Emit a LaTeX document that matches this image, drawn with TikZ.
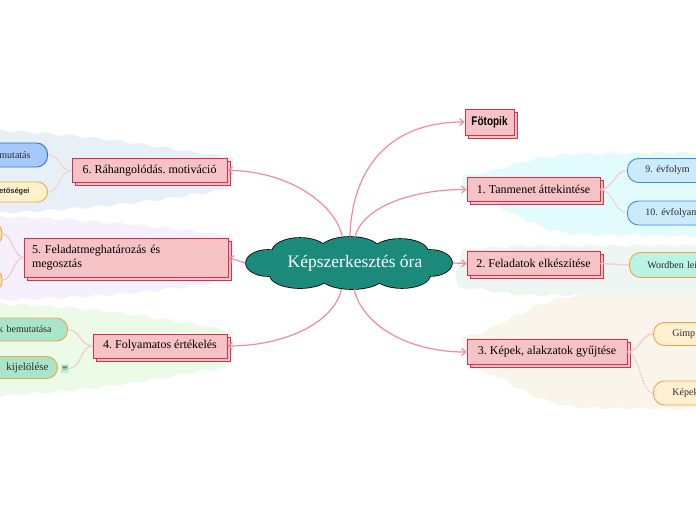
\documentclass[tikz,border=0pt]{standalone}
\usepackage{fontspec}
\setmainfont{Liberation Serif}
\newfontfamily\sansb{Liberation Sans}
\newfontfamily\condb{Liberation Sans}[FakeStretch=0.8]
\newfontfamily\symf{DejaVu Sans}
\usetikzlibrary{shapes.geometric,shapes.misc,arrows.meta,shadows,decorations.pathmorphing}
\frenchspacing
\definecolor{boxfill}{HTML}{F5C3C6}
\definecolor{boxborder}{HTML}{D6304C}
\definecolor{linkpink}{HTML}{F28B9B}
\definecolor{subpink}{HTML}{F7C9D1}
\definecolor{cloudteal}{HTML}{1C8A7A}
\definecolor{regA}{HTML}{E2FBFD}
\definecolor{regB}{HTML}{EEF6F1}
\definecolor{regC}{HTML}{FAF5EA}
\definecolor{regD}{HTML}{E8F0F7}
\definecolor{regE}{HTML}{F5F0FC}
\definecolor{regF}{HTML}{ECFBE7}
\definecolor{bluefillA}{HTML}{CBEAFC}
\definecolor{blueborderA}{HTML}{3B8ED6}
\definecolor{bluefillB}{HTML}{A6C9FB}
\definecolor{blueborderB}{HTML}{2D6FD6}
\definecolor{mintfill}{HTML}{B9F3E4}
\definecolor{greenfill}{HTML}{A9E5C9}
\definecolor{creamfill}{HTML}{FFF0D2}
\definecolor{yellowfill}{HTML}{FFF2CC}
\definecolor{peachfill}{HTML}{FDE3C0}
\definecolor{orangeborder}{HTML}{F0A34A}
\definecolor{pilltext}{HTML}{2A2A2A}
\definecolor{iconbg}{HTML}{C5EED5}
\definecolor{icontext}{HTML}{2F5E48}
\begin{document}
\begin{tikzpicture}[x=1pt,y=-1pt,
  topic/.style={draw=boxborder, fill=boxfill, line width=0.9pt,
    copy shadow={shadow xshift=3pt, shadow yshift=-3pt},
    font=\fontsize{12}{14}\selectfont, inner sep=0pt, minimum height=24pt},
  mainline/.style={draw=linkpink, line width=1.2pt, -{Straight Barb[length=4pt,width=7pt]}},
  subline/.style={draw=subpink, line width=1.3pt},
  subdot/.style={draw=subpink, line width=1.3pt, dash pattern=on 2pt off 1pt},
  region/.style={decorate, decoration={snake, amplitude=1.2pt, segment length=24pt}},
  pill/.style={rectangle, rounded corners=11pt, line width=0.9pt, inner ysep=0pt,
    minimum height=24pt, font=\fontsize{10}{12}\selectfont, text=pilltext},
  pillR/.style={pill, anchor=west, text width=80pt, align=left},
  pillL/.style={pill, anchor=east, text width=70pt, align=right},
]
\useasboundingbox (0,0) rectangle (696,520);
\fill[white] (0,0) rectangle (696,520);

% background regions
\fill[regA, region] (462,176) .. controls (500,172) and (520,156) .. (570,155) -- (720,153)
  -- (720,243) -- (575,241) .. controls (520,240) and (500,207) .. (462,207) -- cycle;
\fill[regB, region] (462,250) .. controls (490,248) and (500,246) .. (540,246) -- (720,246)
  -- (720,290) -- (540,289) .. controls (500,289) and (490,283) .. (462,282) -- cycle;
\fill[regC, region] (462,337) .. controls (500,330) and (520,300) .. (580,296) -- (720,293)
  -- (720,412) -- (580,410) .. controls (520,408) and (500,373) .. (462,371) -- cycle;
\fill[regD, region] (233,157) .. controls (180,152) and (120,135) .. (-20,130)
  -- (-20,214) .. controls (120,210) and (190,195) .. (233,189) -- cycle;
\fill[regE, region] (233,236) .. controls (180,230) and (120,220) .. (-20,217)
  -- (-20,302) .. controls (120,300) and (190,288) .. (233,282) -- cycle;
\fill[regF, region] (233,331) .. controls (180,322) and (120,308) .. (-20,304)
  -- (-20,393) .. controls (120,388) and (190,370) .. (233,364) -- cycle;

% central cloud: union of lobes (outline drawn first, fill on top)
\foreach \cx/\cy/\rx/\ry in {268/263/22/13, 300/252/28/14, 350/250/30/13, 400/252/28/13,
    430/263/22/13, 300/275/30/13, 352/276/32/13, 402/275/28/13, 350/263/80/18}
  \draw[black, line width=1.6pt] (\cx,\cy) ellipse [x radius=\rx, y radius=\ry];
\foreach \cx/\cy/\rx/\ry in {268/263/22/13, 300/252/28/14, 350/250/30/13, 400/252/28/13,
    430/263/22/13, 300/275/30/13, 352/276/32/13, 402/275/28/13, 350/263/80/18}
  \fill[cloudteal] (\cx,\cy) ellipse [x radius=\rx, y radius=\ry];
\node[ellipse, minimum width=206pt, minimum height=52pt, inner sep=0pt, text=white,
  font=\fontsize{17.5}{20}\selectfont] (c) at (349,263) {\hspace*{12pt}Képszerkesztés óra};

% main topics
\node[topic, minimum width=49pt, minimum height=26pt, font=\condb\bfseries\fontsize{12.5}{14}\selectfont] (fot) at (489.5,122) {Fötopik};
\node[topic, minimum width=133pt] (t1) at (533.5,189.5) {1. Tanmenet áttekintése};
\node[topic, minimum width=133pt] (t2) at (533.5,263.5) {2. Feladatok elkészítése};
\node[topic, minimum width=160pt, minimum height=25pt] (t3) at (547,352) {3. Képek, alakzatok gyűjtése};
\node[topic, minimum width=155pt] (t6) at (149.5,170.5) {6. Ráhangolódás. motiváció};
\node[topic, minimum width=204pt, minimum height=39pt, text width=188pt, align=left,
  font=\fontsize{12}{14.5}\selectfont] (t5) at (126,257.5) {5. Feladatmeghatározás és\\megosztás};
\node[topic, minimum width=134pt] (t4) at (160,346) {4. Folyamatos értékelés};

% sub-topic pills
\node[pillR, draw=blueborderA, fill=bluefillA, inner xsep=18pt] (p1a) at (627,170.5) {9. évfolym};
\node[pillR, draw=blueborderA, fill=bluefillA, inner xsep=18pt] (p1b) at (627,213) {10. évfolyam};
\node[pillR, draw=orangeborder, fill=mintfill, inner xsep=18pt, minimum height=25pt] (p2a) at (629,265) {Wordben lei};
\node[pillR, draw=orangeborder, fill=creamfill, inner xsep=19pt, minimum height=23pt] (p3a) at (653,334) {Gimp};
\node[pillR, draw=orangeborder, fill=creamfill, inner xsep=19pt] (p3b) at (653,393) {Képek};
\node[pillL, draw=blueborderB, fill=bluefillB, inner xsep=17pt] (p6a) at (48,155) {mutatás};
\node[pillL, draw=orangeborder, fill=yellowfill, inner xsep=18pt, minimum height=20pt,
  rounded corners=10pt, font=\sansb\bfseries\fontsize{7.5}{9}\selectfont] (p6b) at (48,192) {etőségei};
\node[pillL, draw=orangeborder, fill=peachfill, inner xsep=10pt] (p5a) at (2.5,234) {};
\node[pillL, draw=orangeborder, fill=peachfill, inner xsep=10pt] (p5b) at (2.5,280) {};
\node[pillL, draw=orangeborder, fill=greenfill, inner xsep=16pt, minimum height=23pt] (p4a) at (68,329.5) {k bemutatása};
\node[pillL, draw=orangeborder, fill=greenfill, inner xsep=9pt, minimum height=22pt,
  font=\fontsize{11}{13}\selectfont] (p4b) at (58,367.5) {kijelölése};
\node[fill=iconbg, inner sep=0pt, minimum width=8pt, minimum height=9pt, text=icontext,
  font=\symf\fontsize{7.5}{7.5}\selectfont] (icon) at (65,368.5) {≡};

% main connectors
\draw[mainline] (c.88) .. controls +(2,-68) and +(-76,0) .. (fot.west);
\draw[mainline] (c.77) .. controls +(7,-28) and +(-59,0) .. (t1.west);
\draw[mainline] (c.east) -- (t2.west);
\draw[mainline] (c.281) .. controls +(8,35) and +(-60,0) .. (t3.west);
\draw[mainline] (c.104) .. controls +(-8,-35) and +(58,0) .. (t6.east);
\draw[mainline] (c.west) -- (t5.east);
\draw[mainline] (c.254) .. controls +(-8,35) and +(55,0) .. (t4.east);

% sub connectors
\draw[subline] (t1.east) .. controls +(12,0) and +(-12,0) .. (p1a.west);
\draw[subdot] (t1.east) .. controls +(12,0) and +(-12,0) .. (p1b.west);
\draw[subline] (t2.east) -- (p2a.west);
\draw[subline] (t3.east) .. controls +(12,0) and +(-12,0) .. (p3a.west);
\draw[subdot] (t3.east) .. controls +(12,0) and +(-12,0) .. (p3b.west);
\draw[subdot] (t6.west) .. controls +(-12,0) and +(12,0) .. (p6a.east);
\draw[subdot] (t6.west) .. controls +(-12,0) and +(12,0) .. (p6b.east);
\draw[subline] (t5.west) .. controls +(-10,0) and +(10,0) .. (p5a.east);
\draw[subline] (t5.west) .. controls +(-10,0) and +(10,0) .. (p5b.east);
\draw[subline] (t4.west) .. controls +(-12,0) and +(12,0) .. (p4a.east);
\draw[subline] (t4.west) .. controls +(-12,0) and +(12,0) .. (icon.east);
\end{tikzpicture}
\end{document}
